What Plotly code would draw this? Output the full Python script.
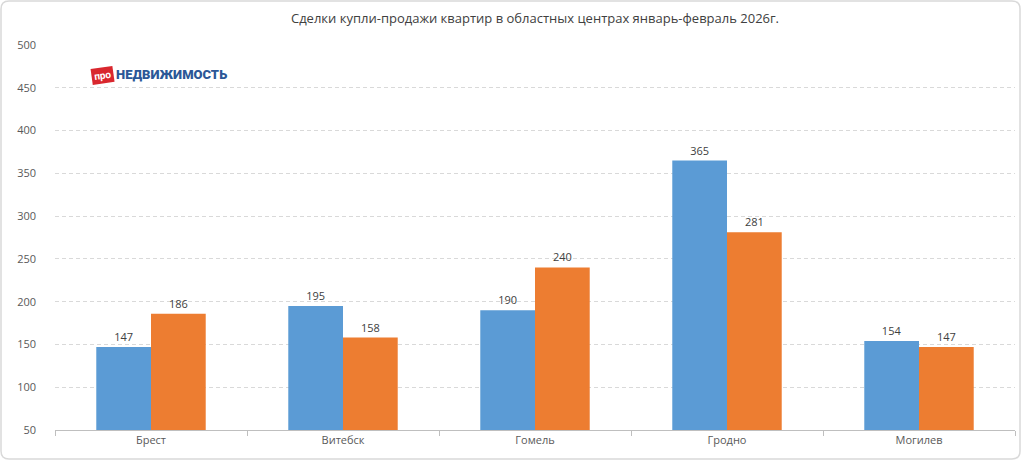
import plotly.graph_objects as go

cities = ["Брест", "Витебск", "Гомель", "Гродно", "Могилев"]
series_2025 = [147, 195, 190, 365, 154]
series_2026 = [186, 158, 240, 281, 147]
title_text = "Сделки купли-продажи квартир в областных центрах январь-февраль 2026г."
y_ticks = [50, 100, 150, 200, 250, 300, 350, 400, 450, 500]

W, H = 1022, 461
ML, MR, MT, MB = 55, 7, 45, 31
PW, PH = W - ML - MR, H - MT - MB

def px_to_paper(x, y):
    return (x - ML) / PW, (H - MB - y) / PH

font_fam = "Segoe UI, Open Sans, DejaVu Sans, sans-serif"

fig = go.Figure()
fig.add_trace(go.Bar(
    x=cities, y=series_2025, marker_color="#5B9BD5", marker_line_width=0,
    text=series_2025, textposition="outside", cliponaxis=False,
    textfont=dict(size=11, color="#404040", family=font_fam),
    name="2025", showlegend=False,
))
fig.add_trace(go.Bar(
    x=cities, y=series_2026, marker_color="#ED7D31", marker_line_width=0,
    text=series_2026, textposition="outside", cliponaxis=False,
    textfont=dict(size=11, color="#404040", family=font_fam),
    name="2026", showlegend=False,
))

# rounded border path in paper coords
r = 8
x0p, y0p, x1p, y1p = 1, 1, 1020, 459
def P(x, y):
    a, b = px_to_paper(x, y)
    return f"{a:.5f},{b:.5f}"
path = (f"M {P(x0p + r, y0p)} L {P(x1p - r, y0p)} Q {P(x1p, y0p)} {P(x1p, y0p + r)} "
        f"L {P(x1p, y1p - r)} Q {P(x1p, y1p)} {P(x1p - r, y1p)} "
        f"L {P(x0p + r, y1p)} Q {P(x0p, y1p)} {P(x0p, y1p - r)} "
        f"L {P(x0p, y0p + r)} Q {P(x0p, y0p)} {P(x0p + r, y0p)} Z")

lx1, ly1 = px_to_paper(102, 75)
lx2, ly2 = px_to_paper(114, 74)

fig.update_layout(
    width=W, height=H,
    margin=dict(l=ML, r=MR, t=MT, b=MB),
    paper_bgcolor="white", plot_bgcolor="white",
    barmode="group", bargap=0.43, bargroupgap=0,
    title=dict(text=title_text, x=0.5, xref="paper", y=1 - 18 / H, yanchor="middle",
               font=dict(size=13, color="#404040", family=font_fam)),
    font=dict(family=font_fam),
    xaxis=dict(
        showline=True, linecolor="#bfbfbf", linewidth=1,
        ticks="outside", tickson="boundaries", ticklen=5, tickcolor="#bfbfbf",
        tickfont=dict(size=11, color="#595959", family=font_fam),
        showgrid=False,
    ),
    yaxis=dict(
        range=[50, 500], tickvals=y_ticks,
        showgrid=True, gridcolor="#d9d9d9", griddash="4px,3px", gridwidth=1,
        zeroline=False, showline=False,
        tickfont=dict(size=11, color="#595959", family=font_fam),
        ticks="", ticklabelstandoff=18,
    ),
    shapes=[dict(type="path", path=path, xref="paper", yref="paper",
                 line=dict(color="#d9d9d9", width=1.5), fillcolor="rgba(0,0,0,0)", layer="below")],
    annotations=[
        dict(text="про", x=lx1, y=ly1, xref="paper", yref="paper",
             showarrow=False, bgcolor="#D9272E", textangle=-8, borderpad=2,
             font=dict(size=10, color="white", family="Roboto", weight=700),
             xanchor="center", yanchor="middle"),
        dict(text="НЕДВИЖИМОСТЬ", x=lx2, y=ly2, xref="paper", yref="paper",
             showarrow=False, xanchor="left", yanchor="middle",
             font=dict(size=13, color="#2B5797", family="Roboto", weight=900)),
    ],
)

fig.write_html("out.html", config={"displayModeBar": False},
               post_script="document.body.style.margin='0';document.body.style.padding='0';")
